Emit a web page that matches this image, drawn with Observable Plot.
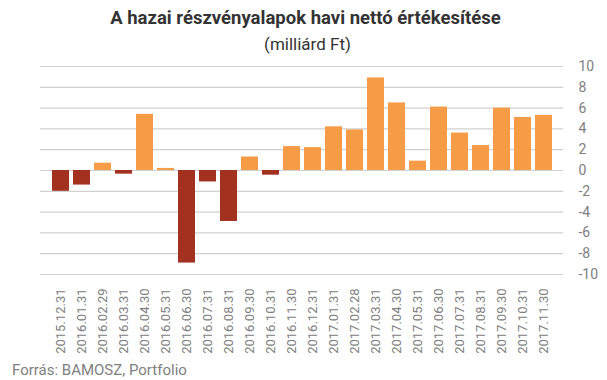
<!DOCTYPE html>
<html>
<head>
<meta charset="utf-8">
<script src="https://cdn.jsdelivr.net/npm/d3@7"></script>
<script src="https://cdn.jsdelivr.net/npm/@observablehq/plot@0.6"></script>
<style>
  html, body { margin: 0; padding: 0; background: #fff; }
  #wrap { position: relative; width: 607px; height: 380px; overflow: hidden; font-family: Roboto, sans-serif; }
  #title { position: absolute; left: 0; width: 607px; top: 7px; text-align: center; font-weight: bold; font-size: 18.5px; line-height: 22px; color: #333; padding-left: 4px; box-sizing: border-box; }
  #subtitle { position: absolute; left: 0; width: 607px; top: 33px; text-align: center; font-size: 17px; line-height: 22px; color: #333; padding-left: 8px; box-sizing: border-box; }
  #chart { position: absolute; left: 0; top: 50px; }
  #caption { position: absolute; left: 12px; top: 362px; font-size: 15px; line-height: 16px; color: #808080; }
</style>
</head>
<body>
<div id="wrap">
  <div id="title">A hazai részvényalapok havi nettó értékesítése</div>
  <div id="subtitle">(milliárd Ft)</div>
  <div id="chart"></div>
  <div id="caption">Forrás: BAMOSZ, Portfolio</div>
</div>
<script>
const dates = ["2015.12.31","2016.01.31","2016.02.29","2016.03.31","2016.04.30","2016.05.31","2016.06.30","2016.07.31","2016.08.31","2016.09.30","2016.10.31","2016.11.30","2016.12.31","2017.01.31","2017.02.28","2017.03.31","2017.04.30","2017.05.31","2017.06.30","2017.07.31","2017.08.31","2017.09.30","2017.10.31","2017.11.30"];
const values = [-2.0,-1.4,0.7,-0.35,5.4,0.2,-8.9,-1.1,-4.9,1.3,-0.45,2.3,2.2,4.2,3.9,8.9,6.5,0.9,6.1,3.6,2.4,6.0,5.1,5.3];
const yTicks = [-10,-8,-6,-4,-2,0,2,4,6,8,10];

const data = dates.map((d, i) => ({date: d, value: values[i]}));
const RED = "#A2311F", ORANGE = "#F79C46";

const chart = Plot.plot({
  width: 607,
  height: 310,
  marginTop: 16,
  marginBottom: 86,
  marginLeft: 40,
  marginRight: 44,
  style: {fontFamily: "Roboto, sans-serif", background: "transparent"},
  x: {domain: dates, padding: 0.2, label: null},
  y: {domain: [-10, 10], label: null},
  marks: [
    Plot.gridY(yTicks, {stroke: "#d0d0d0", strokeOpacity: 1, strokeWidth: 1.2}),
    Plot.barY(data, {x: "date", y: "value", fill: d => d.value < 0 ? RED : ORANGE}),
    Plot.axisY({anchor: "right", ticks: yTicks, tickSize: 0, tickPadding: 15, fontSize: 14, color: "#808080", tickFormat: d => String(d), label: null}),
    Plot.axisX({tickRotate: -90, tickSize: 0, tickPadding: 14, fontSize: 13, color: "#808080", label: null})
  ]
});
document.getElementById("chart").appendChild(chart);
</script>
</body>
</html>
